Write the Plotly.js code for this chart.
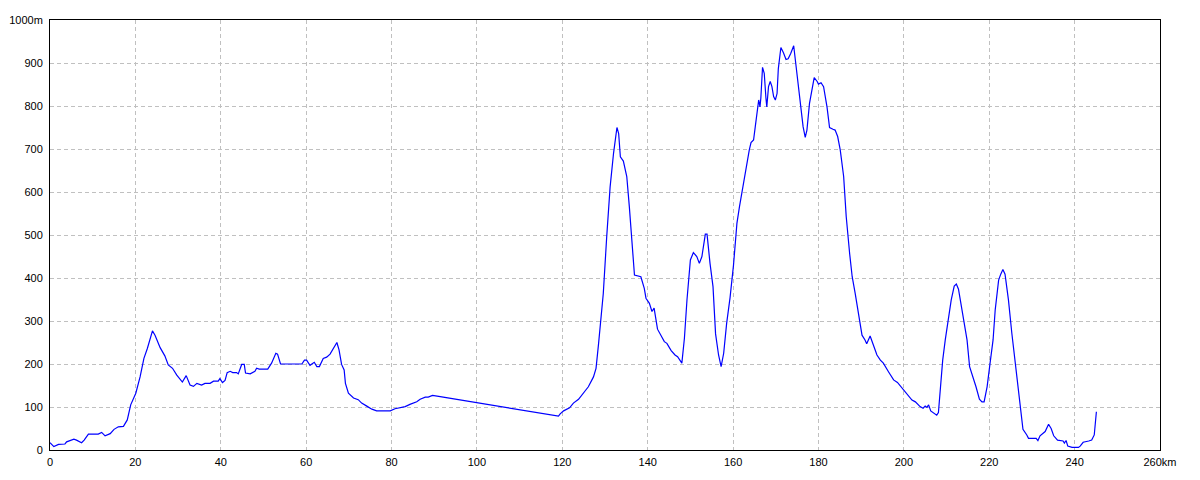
<!DOCTYPE html>
<html>
<head>
<meta charset="utf-8">
<script src="https://cdn.plot.ly/plotly-3.0.1.min.js"></script>
<style>html,body{margin:0;padding:0;background:#fff;}#chart{width:1200px;height:480px;}</style>
</head>
<body>
<div id="chart"></div>
<script>
// Distance along the route (km)
const distanceKm = [
0,0.9,2,3.5,3.9,5.1,5.6,6.2,7.4,8,9,11.3,12.1,12.9,14.1,15,16,17.2,18.1,18.9,
20.1,21.1,22,22.8,24,24.6,25.8,26.9,27.7,28.7,29.7,31,31.9,32.8,33.6,34.4,35.5,36.3,37.5,38.3,
39.4,39.8,40.4,41,41.5,42.2,42.8,43.7,44.1,44.9,45.5,45.8,46.9,48,48.4,49,51,51.9,52.9,53.3,
54,56.2,59,59.6,60.1,60.9,61.9,62.5,63.1,64,64.8,65.6,66.2,67.2,67.7,68.3,68.9,69.2,69.9,71.1,
72.2,73,74.2,75.4,76.5,79.7,80.8,83.2,84.3,85.9,86.7,87.9,88.6,89.6,91.4,119.1,119.5,120.3,
121.7,122.6,123.8,125,126.1,127.3,127.9,128.5,129,129.6,130.4,131.2,132,132.8,133.2,133.6,134.3,135.1,135.7,136.3,
136.9,138.4,139.2,139.6,140.4,141,141.5,142.3,143.9,144.5,145.5,146.4,147,148,148.6,149.2,150,150.7,151.5,152.1,
152.7,153.5,153.9,154.6,155.3,155.9,156.6,157.2,157.8,158.5,159.3,160.1,160.9,161.5,162,162.8,163.8,164.2,164.8,165.2,
165.7,166,166.3,166.5,166.9,167.3,167.7,167.9,168.3,168.7,169.1,169.5,169.9,170.3,170.6,171.2,171.8,172.4,172.9,173.5,
174.2,174.6,175.1,175.7,176.4,176.9,177.3,177.9,178.5,179,179.7,180,180.6,181.2,182,182.6,183.4,183.9,184.5,185.1,
185.9,186.5,187.3,187.9,188.6,189.4,190.2,190.9,191.3,192.1,192.9,193.7,194.5,195.2,196.4,197.6,198.5,199.6,200.7,201.9,
202.7,203.8,204.5,205,205.4,205.8,206.3,207.1,207.7,208.1,208.5,209.1,209.7,210.5,211.1,211.8,212.3,212.8,213.6,214.1,
214.8,215.4,216.2,216.9,217.7,218.3,218.8,219.5,220.2,220.9,221.4,222.2,222.7,223.2,223.7,224.5,225.3,226.1,226.6,227.3,
227.9,228.8,229.2,231,231.4,231.9,233.1,233.9,234.5,235.1,236,237.3,237.6,238,238.4,239.4,240.9,241.3,242,243.3,
244,244.6,245.1
];
// Elevation (m)
const elevationM = [
17,8,13,14,19,23,25,23,17,23,37,37,41,33,38,48,54,55,70,105,
132,170,213,236,277,267,238,219,198,190,174,158,173,151,148,155,151,155,155,160,
160,166,157,162,180,183,180,180,177,199,199,179,177,183,190,188,188,202,225,223,
200,200,200,209,209,197,204,194,194,213,216,223,233,250,233,199,186,155,132,121,
117,109,102,95,91,91,96,101,106,112,118,123,123,127,124,79,84,91,
98,109,118,132,147,170,190,248,302,364,496,612,690,750,736,682,672,636,566,488,
407,403,376,353,341,322,330,281,252,248,231,221,217,202,260,349,442,459,450,434,
450,502,502,434,380,270,221,194,225,295,355,430,527,566,597,643,698,715,721,752,
798,814,798,818,890,876,818,798,845,857,845,822,814,829,887,936,924,908,910,922,
940,907,860,814,752,727,744,806,845,866,857,851,854,845,798,750,746,744,729,698,
636,543,457,403,364,310,267,256,247,265,244,221,209,202,182,163,157,143,130,116,
112,101,97,102,99,105,91,85,81,87,140,209,256,310,349,381,386,374,326,295,
256,194,170,147,118,112,112,147,202,256,326,395,409,420,409,349,271,202,147,93,
48,35,27,27,22,33,43,60,50,33,23,21,16,22,9,6,6,9,18,21,
23,35,89
];
// Tick labels
const xTickVals = [0,20,40,60,80,100,120,140,160,180,200,220,240,260];
const xTickText = ["0","20","40","60","80","100","120","140","160","180","200","220","240","260km"];
const yTickVals = [0,100,200,300,400,500,600,700,800,900,1000];
const yTickText = ["0","100","200","300","400","500","600","700","800","900","1000m"];

const trace = {
  x: distanceKm, y: elevationM, type: 'scatter', mode: 'lines',
  line: {color: '#0000ff', width: 1.2}, hoverinfo: 'skip'
};
const axisCommon = {
  showline: true, mirror: true, linecolor: '#000000', linewidth: 1,
  showgrid: true, gridcolor: '#c0c0c0', gridwidth: 1, griddash: '4px,3px',
  zeroline: false, ticks: '', tickmode: 'array', ticklabelstandoff: 4,
  tickfont: {family: 'Liberation Sans, Arial, sans-serif', size: 11, color: '#000000'}
};
const layout = {
  width: 1200, height: 480,
  margin: {l: 50, r: 40, t: 20, b: 30, pad: 0},
  paper_bgcolor: '#ffffff', plot_bgcolor: '#ffffff',
  showlegend: false,
  xaxis: Object.assign({}, axisCommon, {range: [0, 260], tickvals: xTickVals, ticktext: xTickText, ticklabelstandoff: 2}),
  yaxis: Object.assign({}, axisCommon, {range: [0, 1000], tickvals: yTickVals, ticktext: yTickText})
};
Plotly.newPlot('chart', [trace], layout, {staticPlot: true, displayModeBar: false});
</script>
</body>
</html>
